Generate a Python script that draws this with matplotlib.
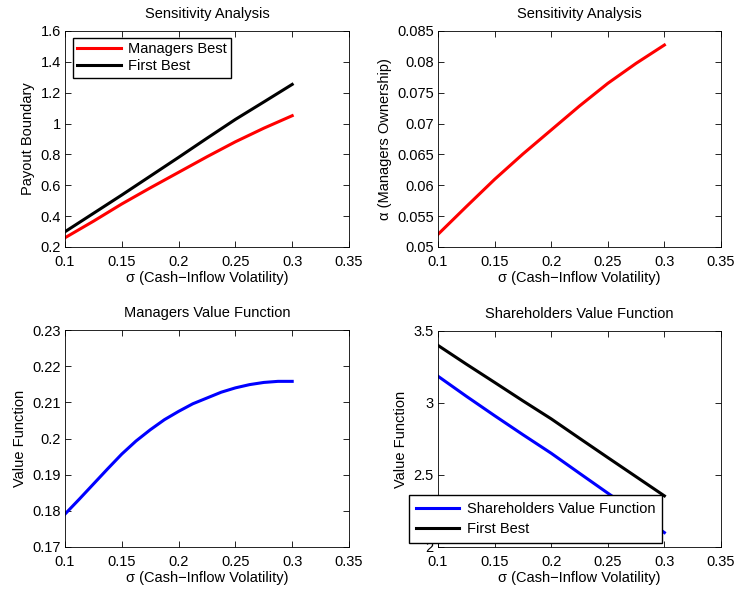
import numpy as np
import matplotlib
matplotlib.use("Agg")
import matplotlib.pyplot as plt

plt.rcParams["font.family"] = ["Liberation Sans", "DejaVu Sans"]
plt.rcParams["font.size"] = 10.5
plt.rcParams["axes.titlesize"] = 10.5

# sigma grid (cash-inflow volatility)
sigma = [0.10, 0.125, 0.15, 0.175, 0.20, 0.225, 0.25, 0.275, 0.30]
sigma_fine = [0.1, 0.1125, 0.125, 0.1375, 0.15, 0.1625, 0.175, 0.1875, 0.2,
              0.2125, 0.225, 0.2375, 0.25, 0.2625, 0.275, 0.2875, 0.3]

# Payout boundary
payout_managers = [0.260, 0.367, 0.479, 0.583, 0.684, 0.785, 0.882, 0.970, 1.051]
payout_first = [0.299, 0.418, 0.537, 0.659, 0.781, 0.905, 1.027, 1.140, 1.254]

# Managers ownership alpha
alpha = [0.05205, 0.05654, 0.06096, 0.06507, 0.06896, 0.07285, 0.07652, 0.07976, 0.08273]

# Managers value function
mgr_value = [0.1791, 0.1832, 0.1874, 0.1916, 0.1957, 0.1993, 0.2024, 0.2052, 0.2075,
             0.2096, 0.2112, 0.2128, 0.2140, 0.2149, 0.2155, 0.2158, 0.2158]

# Shareholders value function
sh_value = [3.186, 3.047, 2.912, 2.780, 2.651, 2.512, 2.374, 2.238, 2.100]
sh_first = [3.400, 3.270, 3.143, 3.015, 2.890, 2.755, 2.621, 2.488, 2.355]

xticklabels = ["0.1", "0.15", "0.2", "0.25", "0.3", "0.35"]
xlabel = "σ (Cash\u2212Inflow Volatility)"

fig = plt.figure(figsize=(7.34, 5.90), dpi=100)
W, H = 734, 590

def make_ax(left, top, right, bottom):
    return fig.add_axes([left / W, 1 - bottom / H, (right - left) / W, (bottom - top) / H])

ax1 = make_ax(65, 31, 349, 247)
ax2 = make_ax(438, 31, 721, 247)
ax3 = make_ax(65, 330, 349, 547)
ax4 = make_ax(438, 331, 721, 547)

lw = 2.2
leg_kw = dict(borderaxespad=0, fancybox=False, edgecolor="black", framealpha=1,
              handlelength=3.0, handletextpad=0.5)

ax1.plot(sigma, payout_managers, color="red", lw=lw, label="Managers Best")
ax1.plot(sigma, payout_first, color="black", lw=lw, label="First Best")
ax1.set_ylim(0.2, 1.6)
ax1.set_yticks([0.2, 0.4, 0.6, 0.8, 1.0, 1.2, 1.4, 1.6])
ax1.set_yticklabels(["0.2", "0.4", "0.6", "0.8", "1", "1.2", "1.4", "1.6"])
ax1.set_ylabel("Payout Boundary")
ax1.set_title("Sensitivity Analysis", pad=9.5)
ax1.legend(loc="upper left", bbox_to_anchor=(0.028, 0.968),
           borderpad=0.3, labelspacing=0.2, **leg_kw)

ax2.plot(sigma, alpha, color="red", lw=lw)
ax2.set_ylim(0.05, 0.085)
ax2.set_yticks([0.05, 0.055, 0.06, 0.065, 0.07, 0.075, 0.08, 0.085])
ax2.set_yticklabels(["0.05", "0.055", "0.06", "0.065", "0.07", "0.075", "0.08", "0.085"])
ax2.set_ylabel("α (Managers Ownership)")
ax2.set_title("Sensitivity Analysis", pad=9.5)

ax3.plot(sigma_fine, mgr_value, color="blue", lw=lw)
ax3.set_ylim(0.17, 0.23)
ax3.set_yticks([0.17, 0.18, 0.19, 0.2, 0.21, 0.22, 0.23])
ax3.set_yticklabels(["0.17", "0.18", "0.19", "0.2", "0.21", "0.22", "0.23"])
ax3.set_ylabel("Value Function")
ax3.set_title("Managers Value Function", pad=9.5)

ax4.plot(sigma, sh_value, color="blue", lw=lw, label="Shareholders Value Function")
ax4.plot(sigma, sh_first, color="black", lw=lw, label="First Best")
ax4.set_ylim(2, 3.5)
ax4.set_yticks([2, 2.5, 3, 3.5])
ax4.set_yticklabels(["2", "2.5", "3", "3.5"])
ax4.set_ylabel("Value Function")
ax4.set_title("Shareholders Value Function", pad=9.5)
ax4.legend(loc="lower left", bbox_to_anchor=(-0.102, 0.0185),
           borderpad=0.45, labelspacing=0.45, **leg_kw)

for ax in (ax1, ax2, ax3, ax4):
    ax.set_xlim(0.1, 0.35)
    ax.set_xticks([0.1, 0.15, 0.2, 0.25, 0.3, 0.35])
    ax.set_xticklabels(xticklabels)
    ax.set_xlabel(xlabel, labelpad=1)
    ax.tick_params(direction="in", top=True, right=True, length=4, width=0.6)
    ax.tick_params(axis="x", pad=6)
    ax.tick_params(axis="y", pad=3)
    for s in ax.spines.values():
        s.set_linewidth(0.6)

fig.savefig("out.png", dpi=100)
